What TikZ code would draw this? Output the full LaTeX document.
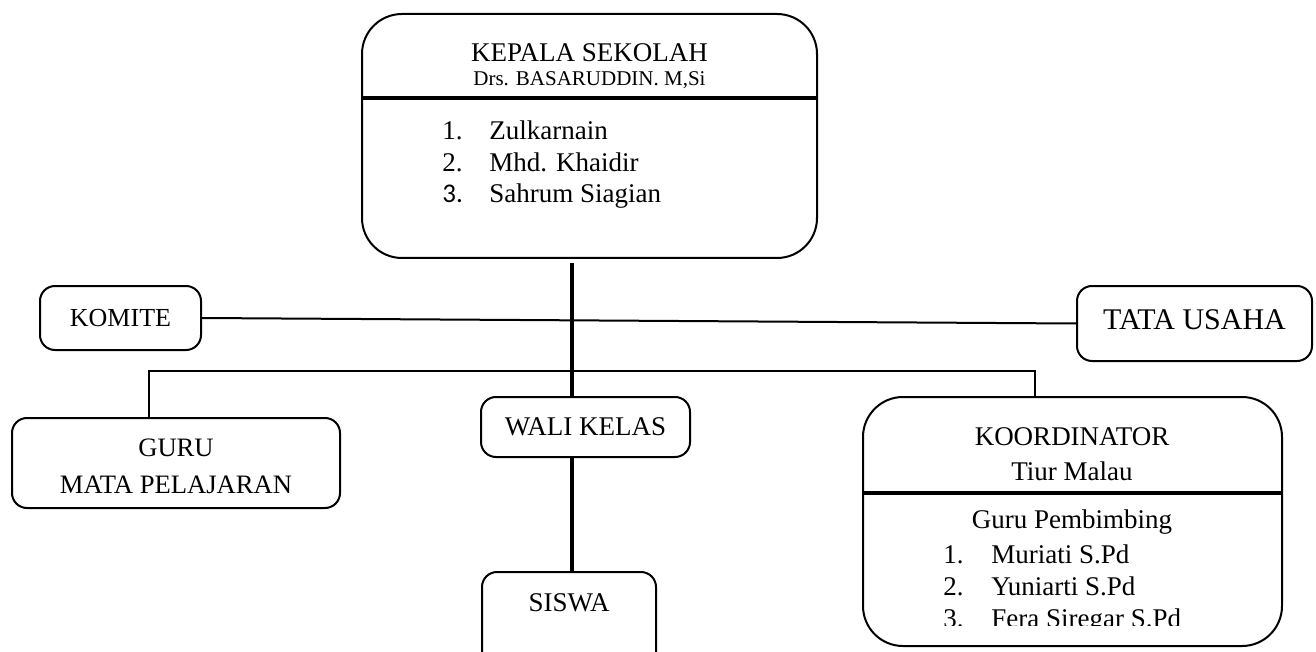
\documentclass[tikz,border=0pt]{standalone}
\usepackage{fontspec}
\setmainfont{Liberation Serif}
\newfontfamily\calfont{Carlito}
\begin{document}
\begin{tikzpicture}[x=0.5pt,y=-0.5pt,
  box/.style={draw,line width=1pt,rounded corners=7.5pt,inner sep=0pt,align=center},
  bigbox/.style={draw,line width=1pt,rounded corners=20pt,inner sep=0pt},
  thin/.style={line width=1pt},
  spine/.style={line width=2pt},
  divider/.style={line width=1.6pt},
  txt/.style={inner sep=0pt},
  big/.style={font=\fontsize{13.5}{16}\selectfont},
  small/.style={font=\fontsize{10.5}{12}\selectfont}]
\clip (0,0) rectangle (1316,652);
% boxes
\node[bigbox,minimum width=227.5pt,minimum height=122pt] (kepala) at (589.5,136) {};
\node[box,minimum width=80.5pt,minimum height=32pt,font=\fontsize{13}{15}\selectfont] (komite) at (120.5,318) {KOMITE};
\node[box,minimum width=117.5pt,minimum height=37.5pt] (tata) at (1194.5,323.5) {};
\node[txt,font=\fontsize{15}{18}\selectfont] (tatat) at (1194.5,320) {TATA USAHA};
\node[box,minimum width=164pt,minimum height=45pt] (guru) at (176,463) {};
\node[txt,font=\fontsize{13.3}{18.5}\selectfont,align=center] (gurut) at (176,466) {GURU\\MATA PELAJARAN};
\node[box,big,minimum width=104.5pt,minimum height=30pt] (wali) at (585.5,427) {WALI KELAS};
\node[box,minimum width=87pt,minimum height=50pt] (siswa) at (569,622) {};
\node[txt,big] (siswat) at (569,603) {SISWA};
\node[bigbox,minimum width=209.5pt,minimum height=124.5pt] (koord) at (1072.5,521.5) {};
% kepala content
\node[txt,big,anchor=base] (kt1) at (589.5,62) {KEPALA SEKOLAH};
\node[txt,small,anchor=base] (kt2) at (589.5,86) {Drs. BASARUDDIN. M,Si};
\draw[divider] (kepala.west |- 0,98) -- (kepala.east |- 0,98);
\node[txt,big,anchor=base west] (kn1) at (442,140) {1.};
\node[txt,big,anchor=base west] (kl1) at (489,140) {Zulkarnain};
\node[txt,big,anchor=base west] (kn2) at (442,172) {2.};
\node[txt,big,anchor=base west] (kl2) at (489,172) {Mhd. Khaidir};
\node[txt,anchor=base west,font=\calfont\fontsize{13.5}{16}\selectfont] (kn3) at (442,203) {3.};
\node[txt,big,anchor=base west] (kl3) at (489,203) {Sahrum Siagian};
% koordinator content
\node[txt,big,anchor=base] (ct1) at (1072,445) {KOORDINATOR};
\node[txt,big,anchor=base] (ct2) at (1072,480) {Tiur Malau};
\draw[divider] (koord.west |- 0,493) -- (koord.east |- 0,493);
\node[txt,big,anchor=base] (ct3) at (1072,528) {Guru Pembimbing};
\node[txt,big,anchor=base west] (cn1) at (943,563) {1.};
\node[txt,big,anchor=base west] (cl1) at (991,563) {Muriati S.Pd};
\node[txt,big,anchor=base west] (cn2) at (943,595) {2.};
\node[txt,big,anchor=base west] (cl2) at (991,595) {Yuniarti S.Pd};
\begin{scope}
\clip (900,600) rectangle (1250,625);
\node[txt,big,anchor=base west] (cn3) at (943,627) {3.};
\node[txt,big,anchor=base west] (cl3) at (991,627) {Fera Siregar S.Pd};
\end{scope}
% connectors
\coordinate (top) at (572,263);
\coordinate (bl) at (149,371);
\coordinate (br) at (1035,371);
\draw[thin] (komite.east) -- (tata.west);
\draw[thin] (guru.north -| bl) -- (bl) -- (br) -- (koord.north -| br);
\draw[spine] (top) -- (wali.north -| top);
\draw[spine] (wali.south -| top) -- (siswa.north -| top);
\end{tikzpicture}
\end{document}
